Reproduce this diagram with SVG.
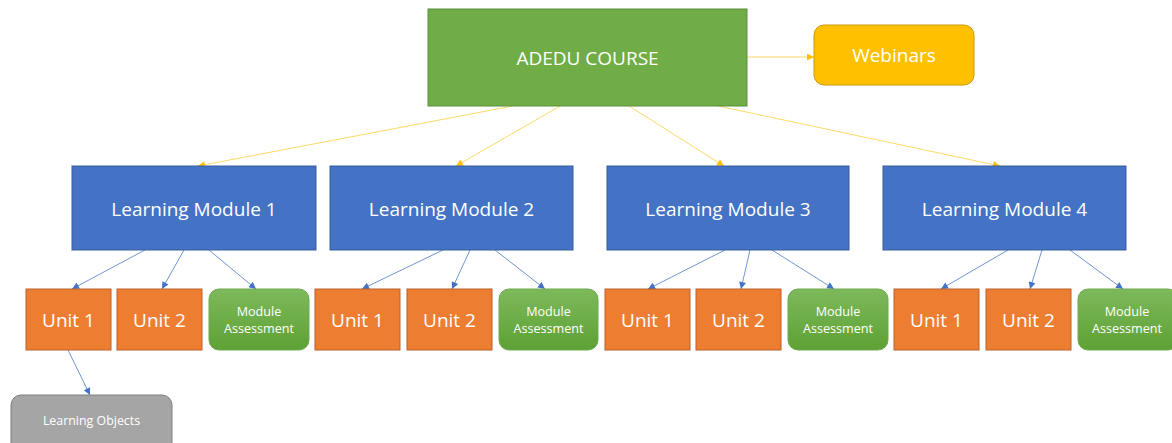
<svg xmlns="http://www.w3.org/2000/svg" width="1172" height="443" viewBox="0 0 1172 443">
<defs>
<linearGradient id="gMA" x1="0" y1="0" x2="0" y2="1"><stop offset="0" stop-color="#7DB95B"/><stop offset="1" stop-color="#5EA134"/></linearGradient>
<marker id="ay" viewBox="0 0 10 10" refX="10" refY="5" markerWidth="8" markerHeight="7" markerUnits="userSpaceOnUse" orient="auto"><path d="M0,0 L10,5 L0,10 z" fill="#FFC000"/></marker>
<marker id="ab" viewBox="0 0 10 10" refX="10" refY="5" markerWidth="8" markerHeight="7" markerUnits="userSpaceOnUse" orient="auto"><path d="M0,0 L10,5 L0,10 z" fill="#4472C4"/></marker>
<style>
text{font-family:"Open Sans","Liberation Sans",sans-serif;fill:#fff;text-anchor:middle}
.big{font-size:19px}
.ma{font-size:12.6px}
.lo{font-size:12.4px}
.course{fill:#70AD47;stroke:#5B8F3A;stroke-width:1}
.web{fill:#FFC000;stroke:#C9980A;stroke-width:1}
.lm{fill:#4472C4;stroke:#365E9E;stroke-width:1}
.unit{fill:#ED7D31;stroke:#B9612A;stroke-width:1}
.mass{fill:url(#gMA);stroke:#6FA950;stroke-width:1}
.lobj{fill:#A5A5A5;stroke:#7F7F7F;stroke-width:1}
.cy{stroke:#FFD966;stroke-width:1;fill:none;marker-end:url(#ay)}
.cb{stroke:#6F95D6;stroke-width:1;fill:none;marker-end:url(#ab)}
</style>
</defs>
<rect width="1172" height="443" fill="#fff"/>
<g id="connectors">
<line class="cy" x1="747" y1="57" x2="814" y2="57"/>
<line class="cy" x1="513" y1="106" x2="198" y2="166"/>
<line class="cy" x1="560" y1="106" x2="456" y2="166"/>
<line class="cy" x1="629" y1="106" x2="724" y2="166"/>
<line class="cy" x1="718" y1="106" x2="1000" y2="166"/>
<line class="cb" x1="145" y1="250" x2="72" y2="289"/>
<line class="cb" x1="184" y1="250" x2="162" y2="289"/>
<line class="cb" x1="209" y1="250" x2="256" y2="289"/>
<line class="cb" x1="443" y1="250" x2="362" y2="289"/>
<line class="cb" x1="470" y1="250" x2="452" y2="289"/>
<line class="cb" x1="495" y1="250" x2="545" y2="289"/>
<line class="cb" x1="725" y1="250" x2="648" y2="289"/>
<line class="cb" x1="750" y1="250" x2="741" y2="289"/>
<line class="cb" x1="772" y1="250" x2="834" y2="289"/>
<line class="cb" x1="1008" y1="250" x2="941" y2="289"/>
<line class="cb" x1="1042" y1="250" x2="1030" y2="289"/>
<line class="cb" x1="1070" y1="250" x2="1123" y2="289"/>
<line class="cb" x1="68" y1="350" x2="90" y2="395"/>
</g>
<g id="course"><rect class="course" x="428" y="9" width="319" height="97"/><text class="big" x="587.5" y="65">ADEDU COURSE</text></g>
<g id="webinars"><rect class="web" x="814" y="25" width="160" height="60" rx="10"/><text class="big" x="894" y="62">Webinars</text></g>
<g id="lm1"><rect class="lm" x="72" y="166" width="244" height="84"/><text class="big" x="194" y="216">Learning Module 1</text></g>
<g id="lm2"><rect class="lm" x="330" y="166" width="243" height="84"/><text class="big" x="451.5" y="216">Learning Module 2</text></g>
<g id="lm3"><rect class="lm" x="607" y="166" width="242" height="84"/><text class="big" x="728" y="216">Learning Module 3</text></g>
<g id="lm4"><rect class="lm" x="883" y="166" width="243" height="84"/><text class="big" x="1004.5" y="216">Learning Module 4</text></g>
<g id="u11"><rect class="unit" x="26" y="289" width="85" height="61"/><text class="big" x="68.5" y="327">Unit 1</text></g>
<g id="u12"><rect class="unit" x="117" y="289" width="85" height="61"/><text class="big" x="159.5" y="327">Unit 2</text></g>
<g id="ma1"><rect class="mass" x="209" y="289" width="100" height="61" rx="10"/><text class="ma" x="259" y="315.5">Module</text><text class="ma" x="259" y="332.5">Assessment</text></g>
<g id="u21"><rect class="unit" x="315" y="289" width="85" height="61"/><text class="big" x="357.5" y="327">Unit 1</text></g>
<g id="u22"><rect class="unit" x="407" y="289" width="85" height="61"/><text class="big" x="449.5" y="327">Unit 2</text></g>
<g id="ma2"><rect class="mass" x="499" y="289" width="99" height="61" rx="10"/><text class="ma" x="548.5" y="315.5">Module</text><text class="ma" x="548.5" y="332.5">Assessment</text></g>
<g id="u31"><rect class="unit" x="605" y="289" width="85" height="61"/><text class="big" x="647.5" y="327">Unit 1</text></g>
<g id="u32"><rect class="unit" x="696" y="289" width="85" height="61"/><text class="big" x="738.5" y="327">Unit 2</text></g>
<g id="ma3"><rect class="mass" x="788" y="289" width="100" height="61" rx="10"/><text class="ma" x="838" y="315.5">Module</text><text class="ma" x="838" y="332.5">Assessment</text></g>
<g id="u41"><rect class="unit" x="894" y="289" width="85" height="61"/><text class="big" x="936.5" y="327">Unit 1</text></g>
<g id="u42"><rect class="unit" x="986" y="289" width="85" height="61"/><text class="big" x="1028.5" y="327">Unit 2</text></g>
<g id="ma4"><rect class="mass" x="1078" y="289" width="100" height="61" rx="10"/><text class="ma" x="1127" y="315.5">Module</text><text class="ma" x="1127" y="332.5">Assessment</text></g>
<g id="lobjects"><rect class="lobj" x="11" y="395" width="161" height="60" rx="10"/><text class="lo" x="91.5" y="424.5">Learning Objects</text></g>
</svg>
